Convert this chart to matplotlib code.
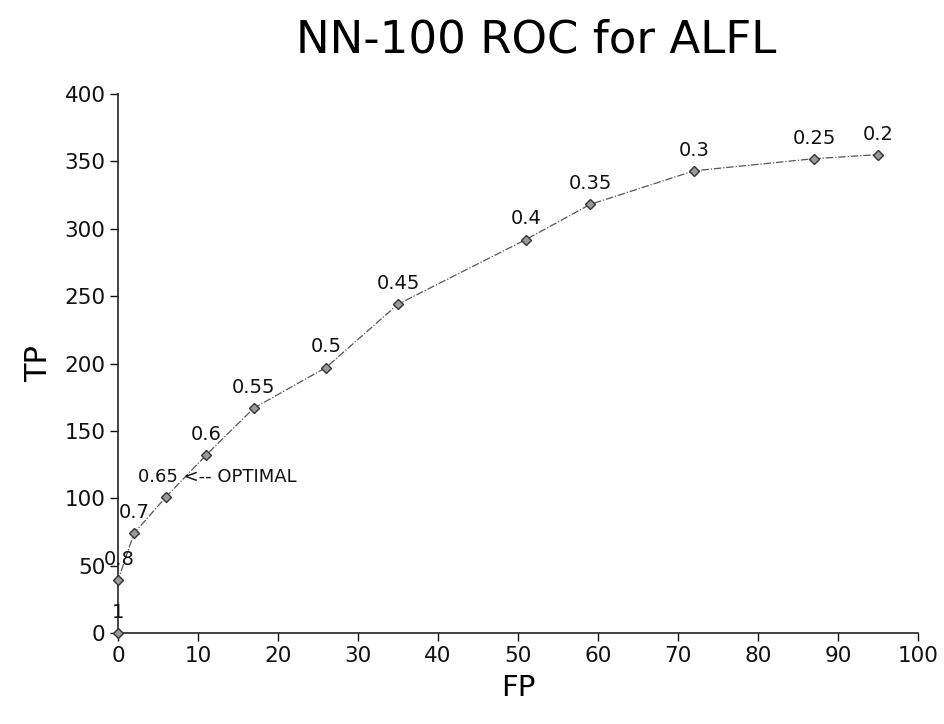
import matplotlib
matplotlib.use("Agg")
import matplotlib.pyplot as plt

fp = [0, 0, 2, 6, 11, 17, 26, 35, 51, 59, 72, 87, 95]
tp = [0, 39, 74, 101, 132, 167, 197, 244, 292, 318, 343, 352, 355]
labels = ["1", "0.8", "0.7", "0.65 <-- OPTIMAL", "0.6", "0.55", "0.5", "0.45",
          "0.4", "0.35", "0.3", "0.25", "0.2"]

fig = plt.figure(figsize=(9.45, 7.24), dpi=100)
ax = fig.add_axes([118/945, 1-633/724, 800/945, 539/724])

ax.plot(fp, tp, color="#555555", linewidth=0.9, linestyle=(0, (6, 1.5, 1, 1.5)),
        marker="D", markersize=5.5, markerfacecolor="#9a9a9a",
        markeredgecolor="#333333", markeredgewidth=1.0, clip_on=False, zorder=3)

for x, y, lab in zip(fp, tp, labels):
    if "OPTIMAL" in lab:
        ax.annotate(lab, (x, y), xytext=(-20, 8), textcoords="offset points",
                    ha="left", va="bottom", fontsize=13, color="#111111")
    elif lab == "0.8":
        ax.annotate(lab, (x, y), xytext=(1, 8), textcoords="offset points",
                    ha="center", va="bottom", fontsize=14, color="#111111")
    else:
        ax.annotate(lab, (x, y), xytext=(0, 8), textcoords="offset points",
                    ha="center", va="bottom", fontsize=14, color="#111111")

ax.set_xlim(0, 100)
ax.set_ylim(0, 400)
ax.set_xticks(range(0, 101, 10))
ax.set_yticks(range(0, 401, 50))
ax.spines["top"].set_visible(False)
ax.spines["right"].set_visible(False)
for s in ("left", "bottom"):
    ax.spines[s].set_linewidth(1.2)
    ax.spines[s].set_color("#222222")
ax.tick_params(axis="both", labelsize=15.5, length=6, width=1.0, direction="out",
               colors="#111111", pad=3)

ax.set_xlabel("FP", fontsize=21, labelpad=6)
ax.set_ylabel("TP", fontsize=22, labelpad=8)
fig.text(0.567, 0.945, "NN-100 ROC for ALFL", ha="center", va="center", fontsize=32.5)

fig.savefig("out.png", dpi=100)
